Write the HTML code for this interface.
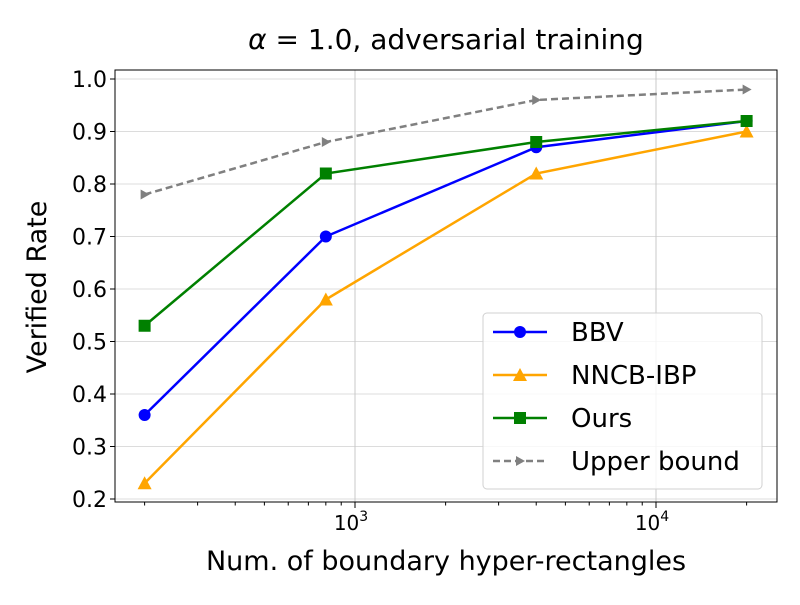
<!DOCTYPE html>
<html><head><meta charset="utf-8"><style>
body{margin:0;background:#fff}
svg{font-family:"DejaVu Sans","Liberation Sans",sans-serif}
</style></head><body>
<svg id="chart" width="800" height="600" viewBox="0 0 800 600">
<rect width="800" height="600" fill="#fff"/>
<g id="grid"></g><g id="axes"></g><g id="series"></g><g id="legend"></g>
<text x="446" y="49" font-size="28" text-anchor="middle"><tspan font-style="italic">α</tspan> = 1.0, adversarial training</text>
<text transform="translate(46,287) rotate(-90)" font-size="27" text-anchor="middle">Verified Rate</text>
<text x="446" y="570" font-size="27" text-anchor="middle">Num. of boundary hyper-rectangles</text>
</svg>
<script>
const xs=[200,800,4000,20000];
const bbv=[0.36,0.70,0.87,0.92];
const nncb=[0.23,0.58,0.82,0.90];
const ours=[0.53,0.82,0.88,0.92];
const upper=[0.78,0.88,0.96,0.98];
const yTicks=[0.2,0.3,0.4,0.5,0.6,0.7,0.8,0.9,1.0];
const xMajor=[1000,10000];
const xMajorLabels=["3","4"];
const L=115,R=777,T=70,B=502;
const X=v=>355+(Math.log10(v)-3)*301;
const Y=v=>499-(v-0.2)*525;
const NS="http://www.w3.org/2000/svg";
function mk(tag,attrs,parent){const e=document.createElementNS(NS,tag);for(const k in attrs)e.setAttribute(k,attrs[k]);parent.appendChild(e);return e;}
const grid=document.getElementById('grid'),axes=document.getElementById('axes'),ser=document.getElementById('series'),leg=document.getElementById('legend');
yTicks.forEach(t=>{
 const l=mk('line',{x1:L,x2:R,y1:Y(t),y2:Y(t),stroke:'#dcdcdc','stroke-width':1},grid);
 
 
 mk('line',{x1:L-5,x2:L,y1:Y(t),y2:Y(t),stroke:'#000'},axes);
 const tx=mk('text',{x:L-8,y:Y(t)+8,'font-size':22,'text-anchor':'end'},axes);
 tx.textContent=t.toFixed(1);
 
 
});
xMajor.forEach((t,i)=>{
 const l=mk('line',{x1:X(t),x2:X(t),y1:T,y2:B,stroke:'#c8c8c8','stroke-width':1},grid);
 
 
 mk('line',{x1:X(t),x2:X(t),y1:B,y2:B+6,stroke:'#000'},axes);
 const tx=mk('text',{x:X(t)-4,y:B+28,'font-size':20,'text-anchor':'middle'},axes);
 tx.textContent='10';
 const s=mk('tspan',{dy:-9,'font-size':14},tx);s.textContent=xMajorLabels[i];
 
 
});
for(let d=100;d<=10000;d*=10)for(let m=2;m<=9;m++){const v=d*m;const px=X(v);if(px>L&&px<R)mk('line',{x1:px,x2:px,y1:B,y2:B+3.5,stroke:'#000'},axes);}
const frame=mk('rect',{x:L,y:T,width:R-L,height:B-T,fill:'none',stroke:'#000','stroke-width':1},axes);


function marker(type,x,y,c,p){
 if(type==='o')return mk('circle',{cx:x,cy:y,r:6,fill:c},p);
 if(type==='s')return mk('rect',{x:x-6,y:y-6,width:12,height:12,fill:c},p);
 if(type==='^')return mk('polygon',{points:`${x},${y-7} ${x-7},${y+6} ${x+7},${y+6}`,fill:c},p);
 return mk('polygon',{points:`${x+5},${y} ${x-4},${y-5} ${x-4},${y+5}`,fill:c},p);
}
const S=[
 {n:'BBV',d:bbv,c:'#0000ff',m:'o',dash:''},
 {n:'NNCB-IBP',d:nncb,c:'#ffa500',m:'^',dash:''},
 {n:'Ours',d:ours,c:'#008000',m:'s',dash:''},
 {n:'Upper bound',d:upper,c:'#808080',m:'>',dash:'7,4'}];
S.forEach((s,i)=>{
 const g=mk('g',{},ser);
 
 
 mk('polyline',{points:xs.map((x,j)=>X(x)+','+Y(s.d[j])).join(' '),fill:'none',stroke:s.c,'stroke-width':2.5,'stroke-dasharray':s.dash},g);
 xs.forEach((x,j)=>{const m=marker(s.m,X(x),Y(s.d[j]),s.c,g);
  
  });
 const ly=332+i*43;
 const e=mk('g',{},leg);
 
 
 mk('line',{x1:493,x2:547,y1:ly,y2:ly,stroke:s.c,'stroke-width':2.5,'stroke-dasharray':s.dash},e);
 marker(s.m,520,ly,s.c,e);
 const t=mk('text',{x:571,y:ly+9,'font-size':26},e);t.textContent=s.n;
});
const lb=mk('rect',{x:483,y:313,width:279,height:176,rx:4,fill:'#fff','fill-opacity':0.8,stroke:'#d0d0d0'},leg);
leg.insertBefore(lb,leg.firstChild);


</script>
</body></html>
